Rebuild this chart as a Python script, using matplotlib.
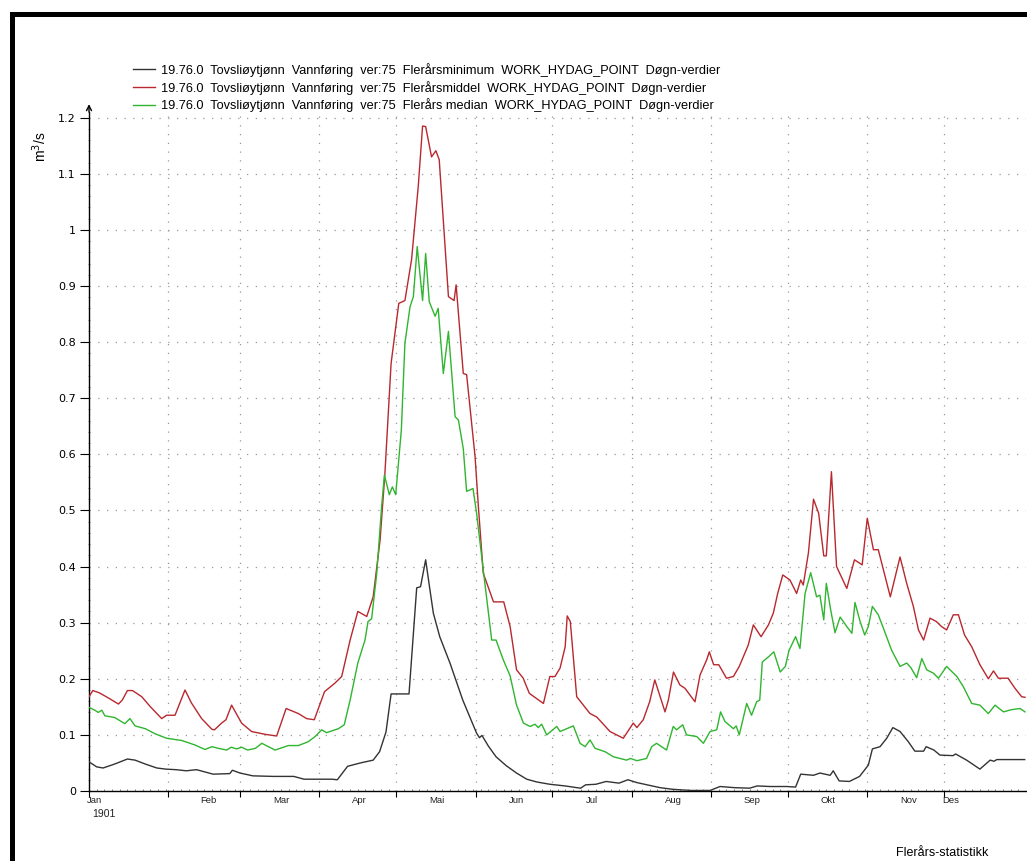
import numpy as np
import matplotlib
matplotlib.use('Agg')
import matplotlib.pyplot as plt
from matplotlib.patches import Rectangle
import matplotlib.transforms as mtransforms

plt.rcParams['font.family'] = ['Liberation Sans', 'DejaVu Sans']

# dag i året (0 = 1. jan) og vannføring i m3/s
min_days = [0, 3, 5.5, 10, 15, 18, 22, 26.5, 30, 34, 38, 42, 48.5, 55, 56, 59, 64, 72, 80, 84, 90, 95, 97,
            101, 106, 111, 113.5, 116, 118, 125, 128, 129.5, 131.5, 133, 134.5, 137, 141, 146, 151.4, 152.5,
            153.5, 156, 159, 163, 167, 171, 175, 180, 186, 192, 194, 198, 202, 207, 210.5, 214, 218, 223,
            228, 235, 242.6, 246.5, 252, 258, 261, 266, 272.6, 276, 278, 283, 285.5, 289.5, 290.7, 293, 297,
            301, 304.4, 306, 309, 311.6, 314, 316.8, 320, 322.6, 326, 327, 330, 332.4, 337.5, 338.5, 342.8,
            348, 352, 353.5, 354.6, 365.5]
min_vals = [0.052, 0.043, 0.041, 0.048, 0.057, 0.055, 0.048, 0.041, 0.039, 0.038, 0.036, 0.038, 0.030,
            0.031, 0.037, 0.032, 0.027, 0.026, 0.026, 0.021, 0.021, 0.021, 0.020, 0.044, 0.050, 0.055, 0.070,
            0.105, 0.173, 0.173, 0.362, 0.364, 0.412, 0.364, 0.317, 0.275, 0.228, 0.162, 0.103, 0.095, 0.099,
            0.080, 0.061, 0.045, 0.032, 0.021, 0.016, 0.012, 0.009, 0.005, 0.011, 0.012, 0.017, 0.014, 0.020,
            0.015, 0.011, 0.006, 0.003, 0.001, 0.001, 0.008, 0.006, 0.005, 0.009, 0.008, 0.008, 0.007, 0.030,
            0.028, 0.032, 0.028, 0.036, 0.018, 0.017, 0.026, 0.046, 0.075, 0.079, 0.094, 0.113, 0.106, 0.088,
            0.071, 0.071, 0.079, 0.073, 0.064, 0.063, 0.066, 0.055, 0.039, 0.055, 0.053, 0.056, 0.056]

mean_days = [0, 1.5, 4, 7.5, 11.5, 13, 15, 17, 20.6, 24, 28.4, 30.3, 33.6, 37.5, 40, 44, 48, 49, 51.8, 53.5,
             55.7, 59.6, 63.5, 68.8, 73.3, 77, 81.8, 85, 88, 92, 96, 98.7, 102, 105, 108.5, 111, 113.7, 115.6,
             118, 121, 123.4, 126, 128.6, 130.3, 131.5, 133.8, 135.5, 136.8, 140.4, 142.6, 143.4, 146.2,
             147.5, 150.8, 152, 154, 158, 162, 164.5, 167, 169.6, 172, 177.5, 180, 182, 184, 186, 186.8, 188,
             190.5, 195.7, 198.3, 203.5, 208.7, 212.6, 214, 216.5, 219, 221, 225, 226.3, 228.3, 230.8, 232.8,
             236.7, 238.7, 241.3, 242.3, 244, 246, 249, 251.7, 254, 257.5, 259.5, 262.5, 265.4, 267.3, 269,
             271, 273.8, 276.4, 278, 279, 281, 283, 285, 287, 288, 290, 292, 296, 299, 302, 304, 306.4, 308.3,
             313, 316.8, 319.4, 322, 324, 326, 328.5, 331, 333, 335, 337.6, 339.6, 342, 344.8, 348, 351.3,
             353.3, 355.2, 359, 361.7, 364.3, 365.6]
mean_vals = [0.168, 0.179, 0.175, 0.166, 0.155, 0.162, 0.179, 0.179, 0.168, 0.150, 0.129, 0.135, 0.135, 0.180,
             0.157, 0.129, 0.110, 0.109, 0.121, 0.127, 0.153, 0.121, 0.106, 0.101, 0.098, 0.147, 0.138, 0.129,
             0.127, 0.177, 0.192, 0.204, 0.269, 0.320, 0.311, 0.346, 0.447, 0.567, 0.762, 0.869, 0.874, 0.947,
             1.077, 1.185, 1.184, 1.130, 1.141, 1.125, 0.881, 0.874, 0.902, 0.744, 0.742, 0.596, 0.513, 0.388,
             0.337, 0.337, 0.293, 0.216, 0.201, 0.174, 0.156, 0.204, 0.204, 0.219, 0.257, 0.312, 0.302, 0.168,
             0.138, 0.132, 0.106, 0.094, 0.121, 0.113, 0.127, 0.159, 0.198, 0.141, 0.162, 0.212, 0.189, 0.183,
             0.159, 0.207, 0.234, 0.248, 0.225, 0.225, 0.201, 0.204, 0.222, 0.260, 0.296, 0.275, 0.296, 0.317,
             0.352, 0.385, 0.376, 0.352, 0.376, 0.367, 0.424, 0.520, 0.495, 0.419, 0.419, 0.569, 0.400, 0.361,
             0.412, 0.403, 0.486, 0.430, 0.430, 0.346, 0.417, 0.370, 0.329, 0.287, 0.269, 0.308, 0.302, 0.293,
             0.287, 0.314, 0.314, 0.278, 0.257, 0.225, 0.200, 0.214, 0.201, 0.201, 0.183, 0.168, 0.167]

median_days = [0, 2.3, 3.6, 5, 6.2, 10, 14, 16, 18, 22, 25.8, 30.3, 36.2, 41.4, 45.3, 48, 50.5, 53.8, 55.5,
               57.7, 59.6, 62, 65, 67.5, 72.7, 77.9, 81.8, 85.7, 88.3, 90.9, 92.8, 94.8, 97.4, 99.7, 102, 105,
               107.8, 109, 110.4, 112.4, 114.3, 115.4, 117.3, 118.5, 119.8, 121, 122, 123.4, 125.4, 126.7,
               128.2, 130.3, 131.5, 132.9, 135.2, 136.4, 138.4, 140.4, 143, 144.3, 146.2, 147.5, 150, 151.4,
               154, 157.3, 159, 161.8, 164.5, 167, 169.7, 172.3, 174.2, 175.5, 176.8, 178.8, 182.7, 184, 186.6,
               189.2, 191.8, 193.8, 195.7, 197.7, 201.6, 204.8, 210, 211.5, 214, 217.8, 219.8, 221.7, 225.6,
               228.2, 229.5, 231.9, 233.4, 237.4, 240, 242.6, 245.2, 246.7, 248.4, 251.7, 252.8, 254, 256.9,
               258.8, 260.8, 262, 263, 265.4, 267.5, 270, 272, 273.4, 276, 277.7, 279.7, 281.9, 284.2, 285.5,
               287, 288, 289.7, 291.4, 293.4, 296, 298, 299.2, 301.2, 303, 304.4, 306, 308.3, 310.3, 313.5,
               316.8, 319.4, 321, 323.3, 325.3, 327.2, 329.8, 331.8, 335, 336.3, 339, 341.5, 344.8, 348,
               351.3, 353.9, 357.2, 360.4, 363.7, 365.6]
median_vals = [0.149, 0.144, 0.140, 0.144, 0.134, 0.131, 0.120, 0.129, 0.116, 0.111, 0.102, 0.094, 0.090,
               0.082, 0.074, 0.079, 0.076, 0.073, 0.078, 0.075, 0.078, 0.073, 0.076, 0.085, 0.073, 0.081,
               0.081, 0.088, 0.097, 0.109, 0.104, 0.107, 0.111, 0.118, 0.162, 0.228, 0.269, 0.302, 0.307,
               0.388, 0.507, 0.563, 0.528, 0.542, 0.528, 0.590, 0.643, 0.798, 0.863, 0.881, 0.970, 0.874,
               0.958, 0.872, 0.846, 0.860, 0.744, 0.819, 0.667, 0.661, 0.610, 0.534, 0.539, 0.495, 0.394,
               0.269, 0.269, 0.234, 0.205, 0.153, 0.121, 0.115, 0.119, 0.113, 0.119, 0.100, 0.115, 0.106,
               0.111, 0.116, 0.085, 0.079, 0.091, 0.076, 0.070, 0.061, 0.055, 0.058, 0.054, 0.058, 0.079,
               0.085, 0.073, 0.115, 0.109, 0.118, 0.100, 0.097, 0.085, 0.106, 0.109, 0.141, 0.124, 0.111,
               0.116, 0.100, 0.156, 0.135, 0.159, 0.162, 0.230, 0.239, 0.248, 0.212, 0.222, 0.250, 0.275,
               0.254, 0.352, 0.389, 0.346, 0.349, 0.305, 0.370, 0.323, 0.282, 0.310, 0.293, 0.281, 0.336,
               0.302, 0.278, 0.293, 0.329, 0.314, 0.290, 0.251, 0.222, 0.228, 0.220, 0.202, 0.236, 0.216,
               0.210, 0.201, 0.222, 0.216, 0.204, 0.186, 0.156, 0.153, 0.138, 0.153, 0.141, 0.145, 0.147,
               0.141]

series_labels = [
    '19.76.0  Tovsliøytjønn  Vannføring  ver:75  Flerårsminimum  WORK_HYDAG_POINT  Døgn-verdier',
    '19.76.0  Tovsliøytjønn  Vannføring  ver:75  Flerårsmiddel  WORK_HYDAG_POINT  Døgn-verdier',
    '19.76.0  Tovsliøytjønn  Vannføring  ver:75  Flerårs median  WORK_HYDAG_POINT  Døgn-verdier',
]

month_starts = [0, 31, 59, 90, 120, 151, 181, 212, 243, 273, 304, 334]
month_names = ['Jan', 'Feb', 'Mar', 'Apr', 'Mai', 'Jun', 'Jul', 'Aug', 'Sep', 'Okt', 'Nov', 'Des']
month_label_days = [2.1, 46.8, 75, 105.7, 135.8, 167, 196.4, 228.4, 259, 288.5, 320, 336.5]
y_ticks = [0, 0.1, 0.2, 0.3, 0.4, 0.5, 0.6, 0.7, 0.8, 0.9, 1.0, 1.1, 1.2]
y_ticklabels = ['0', '0.1', '0.2', '0.3', '0.4', '0.5', '0.6', '0.7', '0.8', '0.9', '1', '1.1', '1.2']

fig = plt.figure(figsize=(10.27, 8.61), dpi=100)
ax = fig.add_axes([89 / 1027, 70 / 861, 937 / 1027, 679 / 861])

ax.plot(min_days, min_vals, color='#333333', lw=1.0, label=series_labels[0], zorder=3)
ax.plot(mean_days, mean_vals, color='#b8282e', lw=1.0, label=series_labels[1], zorder=3)
ax.plot(median_days, median_vals, color='#2fb52f', lw=1.0, label=series_labels[2], zorder=3)

ax.set_xlim(0, 366)
ax.set_ylim(0, 1.21)

for s in ['top', 'right']:
    ax.spines[s].set_visible(False)
ax.spines['left'].set_linewidth(1.0)
ax.spines['bottom'].set_linewidth(1.0)

# akser: månedsgrenser som hovedmerker, dager som småmerker
ax.set_xticks(month_starts)
ax.set_xticklabels([])
ax.set_xticks(np.arange(0, 366, 3), minor=True)
ax.tick_params(axis='x', which='major', direction='out', length=4, width=0.8)
ax.tick_params(axis='x', which='minor', direction='in', length=1.5, width=0.5, color='#555555')

ax.set_yticks(y_ticks)
ax.set_yticklabels(y_ticklabels, fontsize=8, family='DejaVu Sans')
ax.set_yticks(np.arange(0, 1.21, 0.02), minor=True)
ax.tick_params(axis='y', which='major', direction='out', length=6.5, width=0.8, pad=3)
ax.tick_params(axis='y', which='minor', direction='inout', length=1.5, width=0.5, color='#555555')

ax.grid(True, which='major', color='#999999', linestyle=(0, (1, 6)), linewidth=0.9)
ax.set_axisbelow(True)

# månedsnavn midt i måneden
trans = mtransforms.blended_transform_factory(ax.transData, ax.transAxes)
for d, name in zip(month_label_days, month_names):
    ax.text(d, -0.0145, name, transform=trans, ha='center', va='center', fontsize=6.8, color='#222222')
ax.text(5.7, -0.034, '1901', transform=trans, ha='center', va='center', fontsize=7.5, color='#222222')

# pil på toppen av y-aksen
ax.annotate('', xy=(0, 1.229), xytext=(0, 1.205),
            arrowprops=dict(arrowstyle='->', lw=1.0, color='black', mutation_scale=9),
            annotation_clip=False)

fig.text(40 / 1027, 1 - 147 / 861, 'm$^3$/s', rotation=90, ha='center', va='center', fontsize=10)
fig.text(942 / 1027, 1 - 853 / 861, 'Flerårs-statistikk', ha='center', va='center', fontsize=9)

fig.legend(loc='upper left', bbox_to_anchor=(133 / 1027, 1 - 63 / 861), frameon=False,
           fontsize=9.15, handlelength=1.75, handletextpad=0.45, labelspacing=0.3,
           borderpad=0, borderaxespad=0)

# svart ramme oppe og til venstre
fig.add_artist(Rectangle((10 / 1027, 0), 5 / 1027, 1 - 12 / 861, transform=fig.transFigure,
                         color='black', lw=0))
fig.add_artist(Rectangle((10 / 1027, 1 - 17 / 861), 1 - 10 / 1027, 5 / 861, transform=fig.transFigure,
                         color='black', lw=0))

plt.savefig('out.png', dpi=100)
